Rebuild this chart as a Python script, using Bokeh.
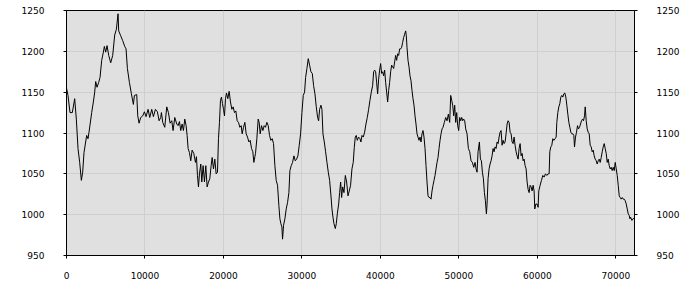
from bokeh.plotting import figure
from bokeh.models import Range1d, LinearAxis, FixedTicker
from bokeh.embed import file_html
from bokeh.resources import INLINE

x_vals = [0,190,446,744,1042,1254,1467,1680,1892,2062,2232,2572,2742,2870,3210,3422,3592,3720,3890,4102,4273,4485,4698,4825,4995,5166,5378,5633,5888,6143,6356,6569,6654,6909,7164,7419,7590,7760,8015,8270,8525,8653,8950,9078,9248,9460,9715,9928,10140,10395,10608,10863,11075,11330,11585,11798,12010,
12095,12265,12520,12775,12988,13201,13413,13584,13796,14051,14222,14392,14562,14732,14902,15072,15242,15370,15497,15667,15837,16008,16220,16433,16560,16688,16815,16943,17113,17240,17410,17580,17751,17921,18091,18261,18431,18559,18729,18899,19069,19239,19367,19494,19622,19749,19877,20005,20132,20260,20387,20557,20727,20898,21068,21238,21408,21578,21748,21919,22089,22259,22386,22556,22727,22897,23067,23237,23407,23577,23747,23875,24003,
24086,24256,24427,24554,24682,24852,25022,25192,25362,25533,25703,25873,26043,26213,26383,26554,26724,26894,27064,27192,27319,27447,27532,27660,27830,28000,28170,28341,28468,28638,28809,28979,29149,29319,29489,29659,29830,30000,30170,30340,30468,30638,30808,30978,31148,31319,31489,31659,31829,31999,32127,32254,32424,32552,32680,32850,33020,33190,33360,33530,33700,33828,33955,34083,34253,34381,34508,34679,34806,34934,35061,35189,35359,35529,
35700,35870,36033,36200,36374,36540,36668,36800,36925,37053,37220,37393,37520,37650,37818,37990,38160,38330,38500,38670,38840,39010,39140,39265,39393,39520,39648,39775,39903,40030,40158,40286,40413,40540,40668,40796,40923,41051,41178,41306,41433,41561,41690,41816,41944,42071,42200,42327,42454,42582,42710,42837,42965,43092,43220,43304,43390,43518,43645,43773,43900,44028,44155,44283,44410,44538,44665,44793,44920,45048,45176,45303,45431,45558,45686,45813,45941,46069,46196,46324,46451,46579,46706,46834,46961,47089,47217,47344,47472,47599,47727,47854,47980,
48150,48320,48490,48660,48830,48960,49085,49213,49340,49468,49595,49723,49850,49978,50106,50233,50361,50488,50616,50743,50871,51041,51211,51381,51552,51722,51892,52062,52190,52317,52445,52615,52743,52870,52998,53125,53253,53380,53508,53593,53721,53849,53976,54104,54231,54359,54486,54614,54741,54869,54997,55124,55252,55379,55507,55634,55762,55889,56017,56145,56272,56400,56527,56655,56782,56910,57038,57165,57293,57420,57548,57675,57803,57931,58058,58186,58313,58441,58568,58696,58824,58951,59079,59206,59334,59461,59589,
59674,59802,59972,60099,60184,60355,60525,60695,60865,61035,61206,61376,61503,61588,61716,61843,61971,62099,62269,62396,62481,62609,62737,62864,62992,63119,63247,63374,63502,63630,63757,63885,64012,64140,64267,64395,64522,64650,64735,64863,64990,65118,65246,65373,65501,65628,65756,65883,66011,66100,66224,66351,66479,66607,66734,66862,66989,67117,67244,67372,67500,67627,67755,67882,68010,68137,68265,68393,68520,68648,68775,68903,69030,69158,69286,69413,69541,69668,69796,69923,70051,70179,70306,70434,70561,70689,70816,70944,71072,71199,71327,71454,71582,71709,71794,71880,72050,72300]

y_vals = [1155,1146,1125,1125,1142,1117,1081,1064,1042,1052,1076,1097,1093,1101,1125,1138,1150,1163,1156,1162,1168,1189,1199,1206,1199,1207,1195,1186,1195,1220,1227,1246,1225,1219,1213,1206,1203,1179,1162,1148,1135,1146,1147,1121,1112,1119,1121,1126,1120,1129,1119,1129,1120,1129,1126,1115,1119,
1125,1113,1107,1132,1125,1112,1115,1103,1119,1111,1109,1114,1103,1111,1103,1117,1109,1097,1081,1076,1066,1079,1075,1064,1071,1048,1034,1050,1062,1040,1060,1040,1060,1034,1040,1044,1060,1070,1056,1068,1050,1052,1093,1113,1140,1144,1136,1129,1121,1142,1149,1142,1151,1138,1129,1132,1125,1127,1115,1113,1107,1109,1099,1107,1113,1099,1095,1089,1091,1081,1077,1064,1071,
1075,1093,1117,1113,1099,1109,1103,1109,1107,1113,1109,1097,1091,1093,1087,1060,1042,1036,1011,995,989,985,970,987,995,1007,1015,1027,1054,1060,1064,1072,1066,1068,1072,1085,1099,1125,1146,1150,1168,1179,1191,1183,1175,1173,1158,1148,1132,1119,1115,1129,1134,1129,1099,1089,1077,1064,1052,1042,1023,1007,997,989,983,989,1001,1013,1027,1040,1021,1034,1027,1048,
1040,1023,1029,1036,1056,1064,1082,1095,1097,1091,1095,1093,1089,1097,1095,1101,1111,1119,1129,1140,1150,1158,1175,1177,1175,1162,1148,1166,1177,1185,1173,1175,1170,1177,1162,1150,1138,1152,1162,1175,1183,1181,1179,1187,1195,1189,1197,1195,1203,1203,1205,1211,1217,1221,1225,1219,1205,1189,1181,1170,1164,1152,1142,1134,1121,1111,1099,1095,1091,1095,1089,1099,1103,1095,1081,1060,1040,1023,1021,1021,1019,1029,1036,1042,1048,1056,1064,1070,1081,1091,1099,1105,1107,
1113,1119,1115,1123,1113,1146,1140,1134,1121,1134,1113,1125,1109,1103,1119,1115,1119,1115,1117,1115,1105,1099,1081,1077,1066,1064,1058,1064,1056,1052,1077,1089,1068,1066,1052,1044,1027,1017,1001,1013,1044,1056,1062,1066,1072,1081,1077,1083,1081,1089,1087,1095,1101,1103,1085,1091,1087,1089,1099,1111,1115,1113,1101,1099,1089,1087,1095,1085,1077,1072,1068,1081,1087,1072,1075,1066,1068,1060,1056,1040,1031,1027,1036,1034,1029,1036,1029,
1007,1013,1013,1009,1029,1036,1042,1048,1046,1050,1048,1050,1050,1077,1083,1085,1093,1091,1093,1095,1113,1125,1132,1136,1144,1146,1144,1148,1149,1144,1134,1123,1113,1107,1101,1099,1099,1097,1083,1095,1101,1109,1105,1107,1111,1115,1117,1115,1121,1132,1115,1105,1101,1099,1085,1083,1077,1079,1072,1068,1066,1062,1066,1068,1064,1070,1077,1083,1087,1081,1075,1064,1068,1060,1056,1058,1054,1058,1054,1064,1056,1048,1036,1023,1021,1019,1021,1019,1019,1017,1013,1007,1001,999,995,997,993,996]

x_ticks = [0, 10000, 20000, 30000, 40000, 50000, 60000, 70000]
y_ticks = [950, 1000, 1050, 1100, 1150, 1200, 1250]

FONT = "DejaVu Sans"

p = figure(width=700, height=300, output_backend="svg", toolbar_location=None,
           x_range=Range1d(0, 72380), y_range=Range1d(950, 1250),
           min_border_left=66, min_border_right=66, min_border_top=10, min_border_bottom=45)
p.background_fill_color = "#e0e0e0"
p.border_fill_color = "white"
p.outline_line_color = "black"
p.outline_line_width = 1

p.line(x_vals, y_vals, line_color="black", line_width=1)

p.add_layout(LinearAxis(), "right")

for ax in p.xaxis:
    ax.ticker = FixedTicker(ticks=x_ticks)
    ax.major_label_standoff = 13
for ax in p.yaxis:
    ax.ticker = FixedTicker(ticks=y_ticks)
    ax.major_label_standoff = 19
for ax in p.axis:
    ax.axis_line_color = "black"
    ax.major_tick_line_color = "black"
    ax.major_tick_in = 0
    ax.major_tick_out = 3
    ax.minor_tick_line_color = None
    ax.major_label_text_font = FONT
    ax.major_label_text_font_size = "9px"
    ax.major_label_text_color = "black"

p.xgrid.ticker = FixedTicker(ticks=x_ticks)
p.ygrid.ticker = FixedTicker(ticks=y_ticks)
p.grid.grid_line_color = "#cfcfcf"
p.grid.grid_line_width = 1

open("out.html", "w").write(file_html(p, INLINE))
